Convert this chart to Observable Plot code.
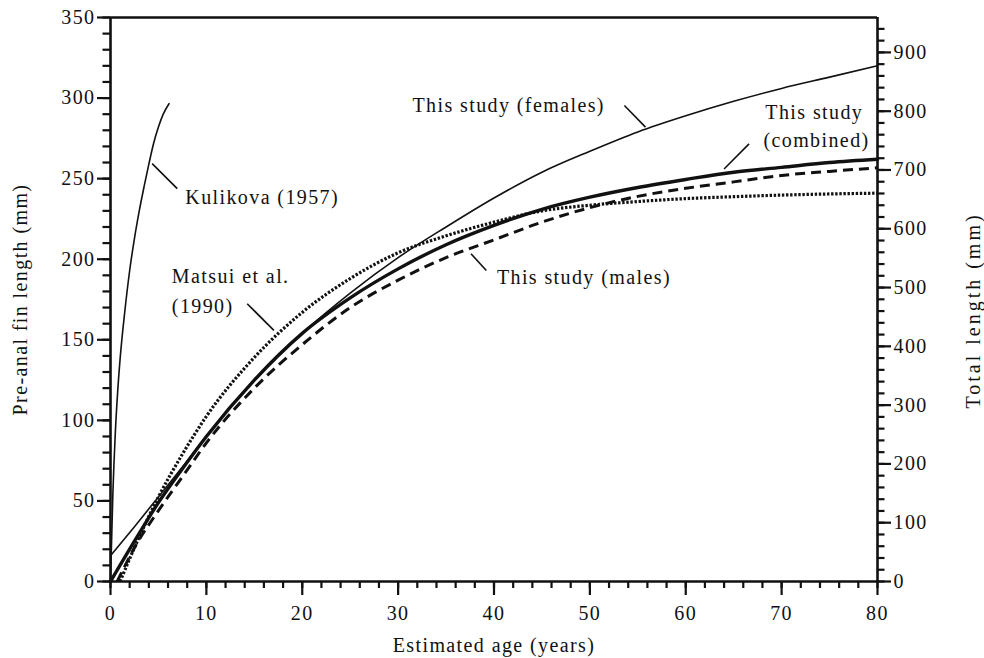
<!DOCTYPE html>
<html>
<head>
<meta charset="utf-8">
<script src="https://cdn.jsdelivr.net/npm/d3@7"></script>
<script src="https://cdn.jsdelivr.net/npm/@observablehq/plot@0.6"></script>
<style>
  html, body { margin: 0; padding: 0; background: #fff; }
  svg, svg text { font-family: "Liberation Serif", "Times New Roman", serif !important; }
  svg text { letter-spacing: 1.4px; }
</style>
</head>
<body>
<div id="chart"></div>
<script>
// Estimated age (years) and pre-anal fin length (mm)
const ages = [0, 2.5, 5, 7.5, 10, 15, 20, 25, 30, 35, 40, 45, 50, 55, 60, 65, 70, 75, 80];
const combined = [0, 25, 49, 70, 90, 125, 154, 176, 194, 209, 221, 231, 238.5, 244.5, 249.5, 254, 257, 260, 262];
const females = [16, 34, 52.5, 71, 90, 125, 154, 179, 201, 220, 238, 254, 267, 279, 289, 298, 306, 313, 320];

const malesAges = [0.7, 2.5, 5, 7.5, 10, 15, 20, 25, 30, 35, 40, 45, 50, 55, 60, 65, 70, 75, 80];
const males = [0, 21, 44, 65, 86, 120, 147, 170, 187, 201, 212, 223, 232, 239, 244, 248, 252, 254.5, 256.7];

const matsuiAges = [1, 2.5, 5, 7.5, 10, 15, 20, 25, 30, 35, 40, 45, 50, 55, 60, 65, 70, 75, 80];
const matsui = [0, 21, 52.5, 79, 102.5, 139, 167, 188, 204, 214.5, 223, 230, 233.5, 235.8, 237.6, 238.8, 239.8, 240.5, 241];

const kulikovaAges = [0, 0.25, 0.5, 0.75, 1, 1.5, 2, 2.5, 3, 3.5, 4, 4.5, 5, 5.5, 6.1];
const kulikova = [0, 55, 92, 118, 138, 168, 193, 213, 230, 245, 259, 272, 282, 290, 296.5];

// Axis ticks
const xMajor = [0, 10, 20, 30, 40, 50, 60, 70, 80];
const xMinor = d3.range(0, 81, 2);
const yMajor = [0, 50, 100, 150, 200, 250, 300, 350];
const yMinor = d3.range(0, 351, 10);
const tlMajor = [0, 100, 200, 300, 400, 500, 600, 700, 800, 900];
const tlMinor = d3.range(0, 941, 20);
const tlPerPafl = 2.741; // total length / pre-anal fin length (right axis)

// Curve labels (data coordinates) and leader lines
const labels = [
  {text: "Kulikova (1957)", x: 7.8, y: 238.5},
  {text: "Matsui et al.", x: 6.4, y: 189},
  {text: "(1990)", x: 6.4, y: 170.5},
  {text: "This study (females)", x: 31.5, y: 295.5},
  {text: "This study", x: 68.3, y: 291},
  {text: "(combined)", x: 68.1, y: 273.5},
  {text: "This study (males)", x: 40.3, y: 188.9}
];
const leaders = [
  {x1: 4.35, y1: 259.3, x2: 6.96, y2: 243.8},
  {x1: 14.26, y1: 172.4, x2: 17.04, y2: 155.8},
  {x1: 53.6, y1: 295.4, x2: 55.8, y2: 282},
  {x1: 66.6, y1: 271.6, x2: 64.0, y2: 256},
  {x1: 37.6, y1: 203.4, x2: 39.2, y2: 193}
];

const toRows = (xs, ys) => xs.map((x, i) => ({x, y: ys[i]}));

const curve = "monotone-x";
const ink = "#111";
const fs = 20;
const chart = Plot.plot({
  width: 984,
  height: 658,
  marginLeft: 110,
  marginRight: 107,
  marginTop: 17,
  marginBottom: 77,
  style: {fontFamily: "Liberation Serif", fontSize: "20px", color: ink, background: "#fff"},
  x: {domain: [0, 80]},
  y: {domain: [0, 350]},
  marks: [
    // curves
    Plot.line(toRows(kulikovaAges, kulikova), {x: "x", y: "y", stroke: ink, strokeWidth: 1.6, curve}),
    Plot.line(toRows(matsuiAges, matsui), {x: "x", y: "y", stroke: ink, strokeWidth: 3.2, strokeDasharray: "2.4,1.7", strokeLinecap: "butt", curve}),
    Plot.line(toRows(malesAges, males), {x: "x", y: "y", stroke: ink, strokeWidth: 3, strokeDasharray: "10,6", strokeLinecap: "butt", curve}),
    Plot.line(toRows(ages, combined), {x: "x", y: "y", stroke: ink, strokeWidth: 3.4, curve}),
    Plot.line(toRows(ages, females), {x: "x", y: "y", stroke: ink, strokeWidth: 1.6, curve}),
    // labels and leaders
    Plot.link(leaders, {x1: "x1", y1: "y1", x2: "x2", y2: "y2", stroke: ink, strokeWidth: 1.6}),
    Plot.text(labels, {x: "x", y: "y", text: "text", textAnchor: "start", fill: ink, fontSize: fs}),
    // frame
    Plot.ruleY([0], {stroke: ink, strokeWidth: 2.6}),
    Plot.ruleY([350], {stroke: ink, strokeWidth: 2.6}),
    Plot.ruleX([0], {stroke: ink, strokeWidth: 2.6}),
    Plot.ruleX([80], {stroke: ink, strokeWidth: 2.6}),
    // bottom axis
    Plot.axisX({ticks: xMinor, tickSize: 7, text: null, label: null, strokeWidth: 2.2}),
    Plot.axisX({ticks: xMajor, tickSize: 14, tickPadding: 10, label: null, strokeWidth: 2.2, fontSize: fs, tickFormat: d3.format("d")}),
    // left axis
    Plot.axisY({ticks: yMinor, tickSize: 7.5, text: null, label: null, strokeWidth: 2.2}),
    Plot.axisY({ticks: yMajor, tickSize: 13, tickPadding: 2, label: null, strokeWidth: 2.2, fontSize: fs, tickFormat: d3.format("d")}),
    // right axis (total length)
    Plot.axisY({anchor: "right", ticks: tlMinor.map(v => v / tlPerPafl), tickSize: 6.5, text: null, label: null, strokeWidth: 2.2}),
    Plot.axisY({anchor: "right", ticks: tlMajor.map(v => v / tlPerPafl), tickSize: 13, tickPadding: 3, label: null, strokeWidth: 2.2, fontSize: fs,
      tickFormat: d => String(Math.round(d * tlPerPafl))}),
    // axis titles
    Plot.text(["Estimated age (years)"], {frameAnchor: "bottom", dy: 64, textAnchor: "middle", lineAnchor: "middle", fill: ink, fontSize: fs}),
    Plot.text(["Pre-anal fin length (mm)"], {frameAnchor: "left", dx: -90, rotate: -90, textAnchor: "middle", lineAnchor: "middle", fill: ink, fontSize: fs}),
    Plot.text(["Total length (mm)"], {frameAnchor: "right", dx: 96, dy: 11, rotate: -90, textAnchor: "middle", lineAnchor: "middle", fill: ink, fontSize: fs})
  ]
});
d3.select(chart).selectAll("text")
  .filter(function() { return this.textContent === "Total length (mm)"; })
  .style("letter-spacing", "3px");
document.getElementById("chart").appendChild(chart);
</script>
</body>
</html>
